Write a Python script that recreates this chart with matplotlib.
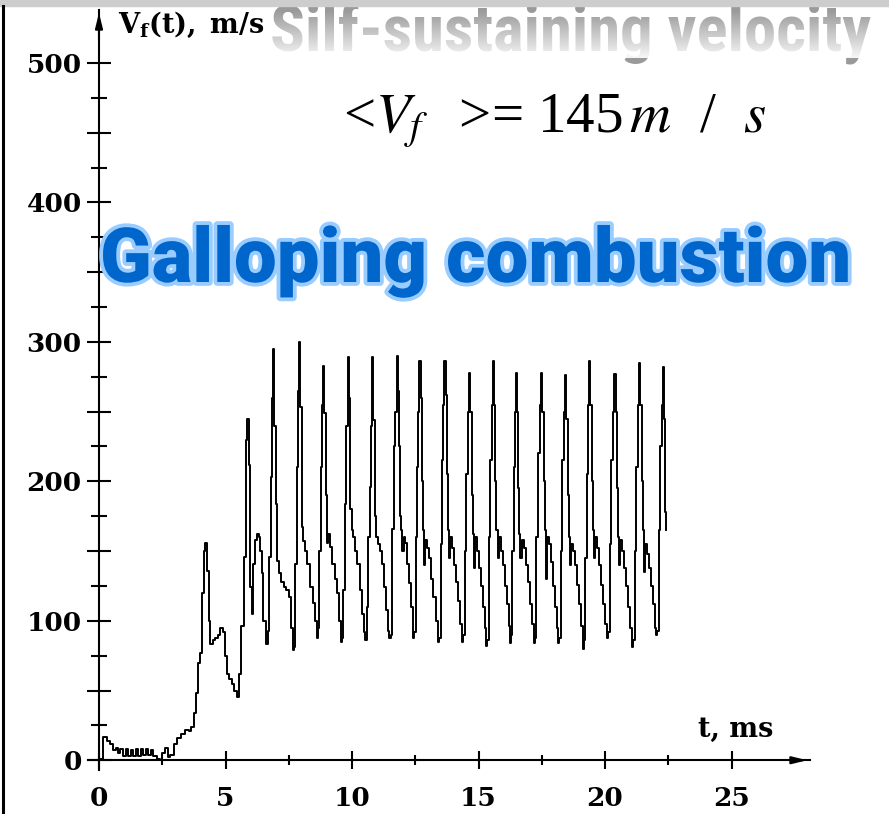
import matplotlib.pyplot as plt
import numpy as np
from matplotlib import patheffects as pe
from matplotlib.lines import Line2D
from matplotlib.patches import Rectangle

# --- data (t in ms, flame velocity in m/s) ---
time_ms = [
    0.00, 0.12, 0.17, 0.30, 0.42, 0.56, 0.66, 0.77, 0.85, 0.95, 1.05, 1.15, 1.25, 1.35, 1.45,
    1.55, 1.65, 1.75, 1.85, 1.95, 2.05, 2.15, 2.28, 2.40, 2.50, 2.62, 2.72, 2.82, 2.95, 3.10,
    3.25, 3.40, 3.55, 3.65, 3.75, 3.85, 3.92, 4.00, 4.07, 4.14, 4.20, 4.27, 4.33, 4.40, 4.50,
    4.60, 4.70, 4.80, 4.90, 4.98, 5.06, 5.15, 5.25, 5.35, 5.45, 5.52, 5.62, 5.72, 5.80,
    5.86, 5.92, 5.98, 6.04, 6.10, 6.18, 6.26, 6.32, 6.38, 6.44, 6.50, 6.60, 6.66, 6.72, 6.78, 6.83,
    6.87, 6.93, 6.98, 7.04, 7.12, 7.20, 7.30, 7.40, 7.50, 7.58, 7.65, 7.71, 7.76, 7.82, 7.87,
    7.91, 7.96, 8.03, 8.08, 8.14, 8.24, 8.34, 8.44, 8.54, 8.61, 8.66, 8.71, 8.77, 8.82,
    8.84, 8.90, 8.96, 9.00, 9.06, 9.13, 9.22, 9.31, 9.40, 9.48, 9.56, 9.60, 9.65, 9.71, 9.77,
    9.83, 9.88, 9.94, 9.98, 10.04, 10.12, 10.20, 10.30, 10.40, 10.47, 10.52, 10.58, 10.64, 10.70, 10.75,
    10.78, 10.84, 10.90, 10.96, 11.02, 11.10, 11.18, 11.26, 11.34, 11.42, 11.48, 11.53, 11.58, 11.65, 11.71,
    11.76, 11.81, 11.86, 11.90, 11.94, 11.98, 12.04, 12.10, 12.18, 12.26, 12.34, 12.41, 12.46, 12.51, 12.57, 12.62,
    12.66, 12.71, 12.76, 12.80, 12.84, 12.90, 12.98, 13.06, 13.14, 13.22, 13.30, 13.40, 13.45, 13.50, 13.56, 13.61,
    13.65, 13.70, 13.75, 13.79, 13.83, 13.88, 13.96, 14.04, 14.12, 14.20, 14.28, 14.35, 14.40, 14.45, 14.52, 14.58,
    14.63, 14.68, 14.73, 14.77, 14.81, 14.86, 14.94, 15.02, 15.10, 15.18, 15.25, 15.30, 15.35, 15.41, 15.47, 15.53,
    15.57, 15.62, 15.67, 15.71, 15.75, 15.80, 15.88, 15.96, 16.04, 16.12, 16.19, 16.24, 16.29, 16.34, 16.40, 16.44,
    16.47, 16.52, 16.57, 16.61, 16.65, 16.70, 16.78, 16.86, 16.94, 17.02, 17.10, 17.19, 17.24, 17.29, 17.36, 17.43,
    17.47, 17.52, 17.57, 17.61, 17.65, 17.70, 17.78, 17.86, 17.94, 18.02, 18.09, 18.14, 18.19, 18.25, 18.31, 18.38,
    18.42, 18.47, 18.52, 18.56, 18.60, 18.65, 18.73, 18.81, 18.89, 18.97, 19.05, 19.12, 19.17, 19.22, 19.28, 19.33,
    19.37, 19.42, 19.47, 19.51, 19.55, 19.60, 19.68, 19.76, 19.84, 19.92, 20.00, 20.08, 20.13, 20.18, 20.25, 20.32,
    20.37, 20.42, 20.47, 20.51, 20.55, 20.60, 20.68, 20.76, 20.84, 20.92, 21.00, 21.07, 21.12, 21.17, 21.24, 21.31,
    21.35, 21.40, 21.45, 21.49, 21.53, 21.58, 21.66, 21.74, 21.82, 21.90, 21.97, 22.02, 22.07, 22.12, 22.18, 22.24,
    22.28, 22.33, 22.37, 22.42,
]
velocity = [
    1, 1, 17, 14, 12, 7, 9, 5, 8, 3, 8, 3, 7, 3, 8,
    3, 8, 4, 8, 4, 7, 3, 1, 0, 5, 9, 2, 4, 12, 16,
    19, 22, 21, 24, 34, 48, 70, 77, 120, 150, 156, 136, 100, 83, 86,
    88, 90, 95, 92, 75, 62, 58, 55, 50, 45, 62, 96, 146, 230,
    245, 212, 124, 105, 141, 158, 162, 160, 150, 134, 100, 83, 93, 146, 203, 260,
    295, 240, 184, 143, 134, 128, 124, 122, 117, 95, 79, 81, 141, 210, 265,
    300, 253, 167, 157, 150, 141, 124, 113, 100, 88, 95, 150, 210, 255,
    283, 249, 190, 156, 162, 153, 141, 130, 120, 100, 85, 88, 122, 184, 240,
    289, 260, 180, 165, 160, 150, 141, 122, 105, 92, 86, 110, 160, 196, 240,
    289, 244, 175, 160, 155, 150, 141, 124, 108, 93, 88, 90, 166, 225, 250,
    290, 265, 225, 175, 165, 150, 160, 156, 141, 127, 110, 88, 92, 160, 210, 250,
    286, 260, 200, 165, 140, 158, 152, 145, 130, 117, 100, 85, 88, 155, 215, 255,
    286, 262, 205, 165, 145, 160, 152, 140, 128, 114, 98, 85, 90, 150, 205, 250,
    278, 250, 190, 162, 138, 160, 150, 138, 125, 110, 95, 82, 86, 160, 215, 255,
    286, 255, 200, 165, 145, 160, 150, 140, 125, 112, 96, 84, 90, 150, 210, 250,
    278, 250, 195, 162, 145, 158, 152, 140, 128, 112, 98, 84, 88, 160, 220, 255,
    278, 250, 200, 165, 130, 160, 155, 142, 125, 110, 95, 84, 88, 150, 215, 250,
    276, 245, 190, 160, 140, 155, 150, 140, 126, 112, 96, 80, 86, 145, 205, 255,
    286, 255, 200, 165, 145, 160, 152, 140, 126, 112, 98, 88, 92, 155, 215, 250,
    277, 250, 195, 160, 140, 158, 150, 138, 125, 110, 95, 81, 86, 150, 210, 255,
    285, 255, 200, 165, 135, 155, 148, 138, 125, 112, 95, 90, 93, 165, 225, 255,
    282, 245, 178, 165,
]

y_major = [0, 50, 100, 150, 200, 250, 300, 350, 400, 450, 500]
y_major_labels = ['0', '', '100', '', '200', '', '300', '', '400', '', '500']
y_minor = [25, 75, 125, 175, 225, 275, 325, 375, 425, 475]
x_major = [0, 5, 10, 15, 20, 25]
x_major_labels = ['0', '5', '10', '15', '20', '25']
x_minor = [2.5, 7.5, 12.5, 17.5, 22.5]

W, H = 889, 814
plt.rcParams['font.family'] = 'DejaVu Serif'

fig = plt.figure(figsize=(W / 100, H / 100), dpi=100)
fig.patch.set_facecolor('white')


def fit_width(txt, target_px):
    # scale a text so that it spans target_px pixels
    w = txt.get_window_extent(fig.canvas.get_renderer()).width
    txt.set_fontsize(txt.get_fontsize() * target_px / w)


ax = fig.add_axes([87.6 / W, 44 / H, (810 - 87.6) / W, (804 - 44) / H])
ax.set_xlim(-0.45, 28.1)
ax.set_ylim(-7, 538)
ax.patch.set_alpha(0)

ax.plot(time_ms, velocity, color='black', lw=1.4, drawstyle='steps-post')

# axes crossing at the origin, with arrow heads
for s in ['top', 'right']:
    ax.spines[s].set_visible(False)
for s in ['left', 'bottom']:
    ax.spines[s].set_position(('data', 0))
    ax.spines[s].set_linewidth(1.5)
ax.annotate('', xy=(28.1, 0), xytext=(27.2, 0), annotation_clip=False,
            arrowprops=dict(arrowstyle='-|>,head_length=0.9,head_width=0.22', color='black', lw=1.5))
ax.annotate('', xy=(0, 538), xytext=(0, 515), annotation_clip=False,
            arrowprops=dict(arrowstyle='-|>,head_length=0.9,head_width=0.22', color='black', lw=1.5))

ax.set_yticks(y_major, labels=y_major_labels)
ax.set_yticks(y_minor, minor=True)
ax.set_xticks(x_major, labels=x_major_labels)
ax.set_xticks(x_minor, minor=True)
ax.tick_params(axis='y', which='major', direction='inout', length=17, width=1.5, labelsize=19, pad=4)
ax.tick_params(axis='y', which='minor', direction='inout', length=12, width=1.5)
ax.tick_params(axis='x', which='major', direction='inout', length=13, width=1.5, labelsize=19, pad=12)
ax.tick_params(axis='x', which='minor', direction='inout', length=7, width=1.5)
for lbl in ax.get_xticklabels() + ax.get_yticklabels():
    lbl.set_fontweight('bold')

# axis labels
fig.text(118 / W, 1 - 33 / H, r'$\mathbf{V_f(t),\ m/s}$', math_fontfamily='dejavuserif',
         fontsize=19.5, va='baseline', ha='left')
fig.text(698 / W, 1 - 737 / H, 't, ms', fontsize=19.5, fontweight='bold', va='baseline', ha='left')

# banner texts
title = fig.text(270 / W, 1 - 51 / H, 'Silf-sustaining velocity',
                 family=['Roboto Condensed', 'Archivo Narrow', 'Asap Condensed', 'DejaVu Sans'],
                 fontweight='semibold', fontsize=40, color='#9a9a9a', va='baseline', ha='left', zorder=4)
fit_width(title, 600)

fig.text(343 / W, 1 - 132 / H, r'<$V_f\,$  >= 145$\,m$  /  $s$', family='Liberation Serif',
         math_fontfamily='stix', fontsize=41, color='black', va='baseline', ha='left')

gallop = fig.text(100 / W, 1 - 282 / H, 'Galloping combustion',
                  family=['Roboto', 'Francois One', 'DejaVu Sans'],
                  fontweight='black', fontsize=50, color='#0066cc', va='baseline', ha='left', zorder=4,
                  path_effects=[pe.withStroke(linewidth=5.5, foreground='#99ccff')])
fit_width(gallop, 752)

# white fade over the lower part of the title letters
gax = fig.add_axes([265 / W, 1 - 58 / H, 615 / W, 48 / H], zorder=10)
gax.axis('off')
fade = np.ones((48, 1, 4))
fade[:, 0, 3] = np.linspace(0.0, 0.92, 48)
gax.imshow(fade, aspect='auto', extent=[0, 1, 0, 1])

# picture frame edges
fig.add_artist(Rectangle((0, 1 - 6 / H), 1, 6 / H, transform=fig.transFigure,
                         color='#cdcdcd', zorder=11))
fig.add_artist(Line2D([3 / W, 3 / W], [0, 1 - 6 / H], transform=fig.transFigure,
                      color='black', lw=2.2, zorder=11))

fig.savefig('out.png', dpi=100)
